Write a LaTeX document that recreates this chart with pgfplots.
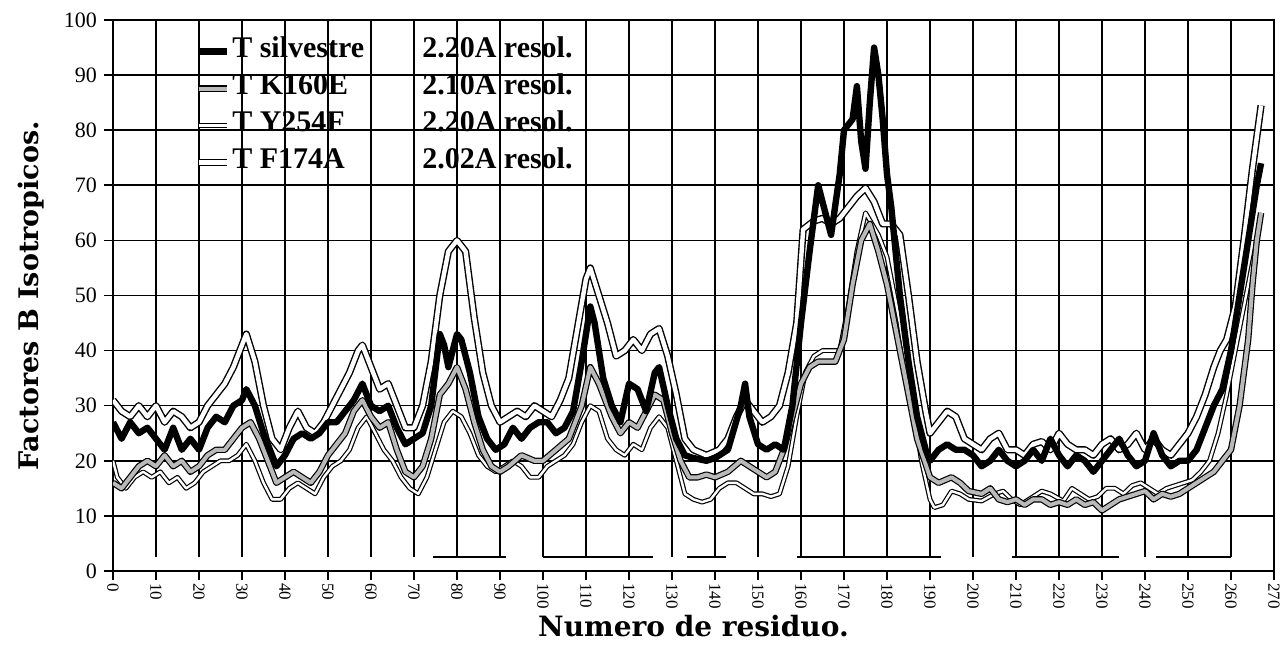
\documentclass[border=0pt]{standalone}
\usepackage{pgfplots}
\pgfplotsset{compat=1.18}
\usepackage{pgfplotstable}
\usepackage{fontspec}
\setmainfont{Liberation Serif}
\newfontfamily\labfont{DejaVu Serif}

\pgfplotstableread{
x y
0 27
2 24
4 27
6 25
8 26
10 24
12 22
14 26
16 22
18 24
20 22
22 26
24 28
26 27
28 30
30 31
31 33
33 30
35 25
37 21
38 19
40 21
42 24
44 25
46 24
48 25
50 27
52 27
54 29
56 31
58 34
60 30
62 29
64 30
66 26
68 23
70 24
72 25
74 30
76 43
77 41
78 37
80 43
81 42
83 36
85 28
87 24
89 22
91 23
93 26
95 24
97 26
99 27
101 27
103 25
105 26
107 29
109 38
111 48
112 45
114 35
116 30
118 27
120 34
122 33
124 29
126 36
127 37
129 30
131 24
133 21
135 20.5
138 20
140 20.5
143 22
146 30
147 34
148 28
150 23
152 22
154 23
156 22
158 30
160 45
162 58
164 70
166 64
167 61
169 72
170 80
172 82
173 88
174 78
175 73
176 85
177 95
178 90
179 82
180 72
181 66
183 50
185 38
187 28
189 22
190 20
192 22
194 23
196 22
198 22
200 21
202 19
204 20
206 22
208 20
210 19
212 20
214 22
216 20
218 24
220 21
222 19
224 21
226 20
228 18
230 20
232 22
234 24
236 21
238 19
240 20
242 25
244 21
246 19
248 20
250 20
252 22
254 26
256 30
258 33
260 40
262 50
264 60
266 70
267 74
}\silvestre

\pgfplotstableread{
x y
0 16
2 15
4 17
6 19
8 20
10 19
12 21
14 19
16 20
18 18
20 19
22 21
24 22
26 22
28 24
30 26
32 27
34 24
36 20
38 16
40 17
42 18
44 17
46 16
48 18
50 21
52 23
54 25
56 29
58 31
60 28
62 26
64 27
66 22
68 18
70 17
72 19
74 24
76 32
78 34
80 37
82 33
84 27
86 22
88 19
90 18
92 19
95 21
98 20
100 20
103 22
106 24
109 30
111 37
113 34
116 28
118 25
120 27
122 26
124 29
126 32
128 31
130 25
132 20
134 17
136 17
138 17.5
140 17
143 18
146 20
148 19
150 18
152 17
154 18
156 22
158 28
160 34
162 37
164 38
166 38
168 38
170 42
172 52
174 60
176 63
178 58
180 52
182 44
184 36
187 24
190 17
192 16
195 17
197 16
199 14.5
202 14
204 15
206 13
208 12.5
210 13
212 12
214 13
216 13
218 12
220 12.5
222 12
224 13
226 12
228 12.5
230 11
232 12
234 13
236 13.5
238 14
240 14.5
242 13
244 14
246 13.5
248 14
250 15
252 16
254 17
256 18
258 20
260 22
262 30
264 42
265 52
266 60
267 65
}\kE

\pgfplotstableread{
x y
0 20
1 17
3 15
5 17
7 18
9 17
11 18
13 16
15 17
17 15
19 16
21 18
23 19
25 20
27 20
29 21
31 23
33 20
35 16
37 13
39 13
41 15
43 16
45 15
47 14
49 17
51 19
53 20
55 22
57 26
59 28
61 25
63 22
65 20
67 17
69 15
71 14
73 17
75 22
77 27
79 29
81 28
83 25
85 21
87 19
89 18
91 19
93 20
95 19
97 17
99 17
101 19
103 20
105 21
107 23
109 27
111 30
113 29
115 24
117 22
119 21
121 23
123 22
125 26
127 28
129 26
131 20
133 14
135 13
137 12.5
139 13
141 15
143 16
145 16
147 15
149 14
151 14
153 13.5
155 14
157 19
159 28
161 36
163 39
165 40
167 40
169 40
171 48
173 58
175 65
178 61
180 57
183 45
186 30
188 20
190 13
191 11.5
193 12
195 14.5
197 14
199 13
202 12.7
205 14
207 14.5
209 13
211 12
213 13
216 14.5
218 14
221 12.7
223 15
225 14
227 13
229 13.5
231 15
233 15
235 14
237 15.5
239 16
241 15
243 14
245 15
247 15.5
249 16
251 16.5
253 18
255 20
257 25
259 32
261 40
263 48
265 56
266.5 62
}\yF

\pgfplotstableread{
x y
0 31
2 29
4 28
6 30
8 28
10 30
12 27
14 29
16 28
18 26
20 27
22 30
24 32
26 34
28 37
30 41
31 43
33 38
35 30
37 24
39 22
41 26
43 29
45 26
47 25
49 27
51 30
53 33
55 36
57 40
58 41
60 37
62 33
64 34
66 30
68 26
70 26
72 30
74 38
76 50
78 58
80 60
82 58
84 46
86 36
88 30
90 27
92 28
94 29
96 28
98 30
100 29
102 28
104 31
106 35
108 44
110 53
111 55
113 50
115 45
117 39
119 40
121 42
123 40
125 43
127 44
129 39
131 32
133 24
135 22
138 21
141 22
143 24
145 28
147 31
149 29
151 27
153 28
155 30
157 36
159 45
160.5 62
163 63.5
165 64
167 63
169 64
171 66
173 68
175 69.5
177 67
179 63
181 63
183 61
185 50
187 38
189 29
190 25
192 27
194 29
196 28
198 24
200 23
202 22
204 24
206 25
208 22
210 22
212 21
214 23
216 23.5
218 22
220 25
222 23
224 22
226 22
228 21
230 23
232 24
234 22
236 23
238 25
240 22
242 24
244 22
246 21
248 23
250 25
252 28
254 32
256 37
257.5 40
259 42
261 48
263 60
265 73
267 84.5
}\fA

\begin{document}
\begin{tikzpicture}
\useasboundingbox (-56.5pt,-40.5pt) rectangle (584.5pt,285.5pt);
\begin{axis}[
  scale only axis,
  width=580.5pt, height=275.5pt,
  xmin=0, xmax=270, ymin=0, ymax=100,
  xtick={0,10,...,270}, ytick={0,10,...,100},
  ymajorgrids,
  grid style={black, line width=0.8pt},
  axis line style={black, line width=1pt},
  tick style={black, line width=0.8pt},
  tick align=outside,
  major tick length=4.5pt,
  xtick pos=bottom, ytick pos=left,
  /pgf/number format/assume math mode=true,
  xticklabel style={rotate=-90, anchor=west, inner sep=1.5pt, font=\fontsize{8.5}{8.5}\selectfont},
  yticklabel style={font=\fontsize{11}{11}\selectfont},
  xlabel={Numero de residuo.},
  ylabel={Factores B Isotropicos.},
  xlabel style={at={(axis description cs:0.5,-0.1)}, anchor=center, font=\labfont\bfseries\fontsize{14}{14}\selectfont},
  ylabel style={at={(axis description cs:-0.071,0.5)}, anchor=center, font=\labfont\bfseries\fontsize{13.5}{14}\selectfont},
  legend style={at={(axis cs:19,97.6)}, anchor=north west, draw=none, fill=none,
    font=\bfseries\fontsize{15}{19}\selectfont, inner sep=0pt, row sep=2.5pt,
    nodes={inner sep=1pt, text height=11pt, text depth=3pt}},
  legend cell align=left,
  legend image code/.code={\draw[#1, line cap=butt] (0pt,-1pt) -- (14pt,-1pt);},
]
\pgfplotsinvokeforeach{10,20,...,260}{\draw[black, line width=0.8pt] (axis cs:#1,2.5) -- (axis cs:#1,100);}

\addlegendimage{black, line width=3.2pt}
\addlegendentry{\makebox[95pt][l]{T silvestre}2.20A resol.}
\addlegendimage{black, line width=0.6pt, double=gray!55, double distance=2pt}
\addlegendentry{\makebox[95pt][l]{T K160E}2.10A resol.}
\addlegendimage{black, line width=0.6pt, double=white, double distance=1.2pt}
\addlegendentry{\makebox[95pt][l]{T Y254F}2.20A resol.}
\addlegendimage{black, line width=0.7pt, double=white, double distance=2.2pt}
\addlegendentry{\makebox[95pt][l]{T F174A}2.02A resol.}

% secondary structure segments
\addplot[black, line width=0.9pt, forget plot] coordinates {(74.5,2.5) (91.5,2.5)};
\addplot[black, line width=0.9pt, forget plot] coordinates {(100,2.5) (125.5,2.5)};
\addplot[black, line width=0.9pt, forget plot] coordinates {(133.5,2.5) (142.5,2.5)};
\addplot[black, line width=0.9pt, forget plot] coordinates {(159,2.5) (192.5,2.5)};
\addplot[black, line width=0.9pt, forget plot] coordinates {(209,2.5) (234,2.5)};
\addplot[black, line width=0.9pt, forget plot] coordinates {(242.5,2.5) (260,2.5)};

\addplot[black, line width=0.6pt, double=white, double distance=1.2pt, line join=round, forget plot] table {\yF};
\addplot[black, line width=0.6pt, double=gray!55, double distance=2pt, line join=round, forget plot] table {\kE};
\addplot[black, line width=0.7pt, double=white, double distance=2.2pt, line join=round, forget plot] table {\fA};
\addplot[black, line width=3.2pt, line join=round, forget plot] table {\silvestre};
\end{axis}
\end{tikzpicture}
\end{document}
